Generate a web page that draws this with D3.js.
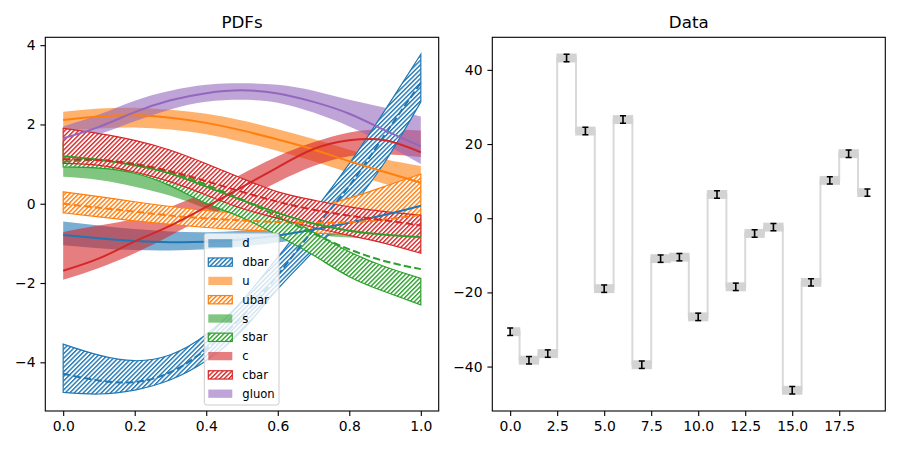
<!DOCTYPE html>
<html><head><meta charset="utf-8">
<script src="https://cdn.jsdelivr.net/npm/d3@7"></script>
<style>body{margin:0;background:#fff} svg{display:block} text{font-family:"DejaVu Sans",sans-serif}</style>
</head><body><svg id="c" width="900" height="450"></svg>
<script>
// ---------- data: left panel (PDFs) ----------
const xGrid = [0, 0.1, 0.2, 0.3, 0.4, 0.5, 0.6, 0.7, 0.8, 0.9, 1.0];

const dLo  = [-1.05, -1.12, -1.17, -1.18, -1.15, -1.08, -0.98, -0.86, -0.75, -0.68, -0.64];
const dHi  = [-0.45, -0.55, -0.64, -0.70, -0.72, -0.68, -0.58, -0.42, -0.20, 0.10, 0.43];
const dMid = [-0.79, -0.87, -0.94, -0.97, -0.96, -0.90, -0.80, -0.65, -0.48, -0.28, -0.05];

const dbarLo  = [-4.76, -4.80, -4.70, -4.44, -3.96, -3.20, -2.15, -1.20, -0.16, 1.06, 2.57];
const dbarHi  = [-3.54, -3.82, -3.96, -3.81, -3.30, -2.45, -1.35, -0.20, 1.01, 2.36, 3.77];
const dbarMid = [-4.29, -4.46, -4.50, -4.25, -3.67, -2.85, -1.80, -0.65, 0.45, 1.75, 3.05];

const uLo  = [1.85, 1.90, 1.92, 1.87, 1.75, 1.56, 1.33, 1.07, 0.78, 0.50, 0.25];
const uHi  = [2.32, 2.40, 2.42, 2.37, 2.27, 2.10, 1.88, 1.63, 1.36, 1.12, 0.95];
const uMid = [2.11, 2.20, 2.23, 2.17, 2.04, 1.85, 1.62, 1.37, 1.07, 0.80, 0.53];

const ubarLo  = [-0.23, -0.33, -0.43, -0.52, -0.60, -0.66, -0.70, -0.74, -0.77, -0.80, -0.82];
const ubarHi  = [0.30, 0.18, 0.05, -0.07, -0.17, -0.24, -0.24, -0.10, 0.14, 0.44, 0.75];
const ubarMid = [0.00, -0.10, -0.20, -0.30, -0.37, -0.42, -0.46, -0.48, -0.47, -0.40, -0.28];

const sLo  = [0.68, 0.60, 0.43, 0.20, -0.12, -0.42, -0.64, -0.78, -0.85, -0.88, -0.90];
const sHi  = [1.06, 1.00, 0.85, 0.62, 0.34, 0.05, -0.22, -0.42, -0.50, -0.52, -0.52];
const sMid = [1.20, 1.11, 0.97, 0.76, 0.43, 0.09, -0.23, -0.50, -0.68, -0.78, -0.84];

const sbarLo  = [0.93, 0.90, 0.77, 0.45, 0.01, -0.35, -0.80, -1.30, -1.84, -2.22, -2.55];
const sbarHi  = [1.55, 1.50, 1.27, 1.00, 0.64, 0.28, -0.20, -0.72, -1.21, -1.59, -1.88];
const sbarMid = [1.06, 1.10, 1.00, 0.80, 0.48, 0.10, -0.32, -0.75, -1.15, -1.45, -1.65];

const cLo  = [-1.92, -1.62, -1.25, -0.80, -0.33, 0.10, 0.55, 0.95, 1.20, 1.25, 1.18];
const cHi  = [-0.71, -0.55, -0.38, -0.08, 0.30, 0.75, 1.20, 1.55, 1.80, 1.88, 1.85];
const cMid = [-1.69, -1.38, -0.95, -0.55, -0.08, 0.42, 0.92, 1.38, 1.60, 1.60, 1.30];

const cbarLo  = [1.02, 0.97, 0.80, 0.55, 0.22, -0.12, -0.37, -0.60, -0.80, -1.00, -1.25];
const cbarHi  = [1.90, 1.77, 1.60, 1.35, 1.01, 0.64, 0.30, 0.09, -0.08, -0.20, -0.29];
const cbarMid = [1.12, 1.10, 1.00, 0.82, 0.57, 0.30, 0.05, -0.15, -0.30, -0.42, -0.55];

const gluonLo  = [1.50, 1.75, 2.08, 2.38, 2.57, 2.62, 2.55, 2.30, 1.95, 1.50, 1.00];
const gluonHi  = [1.95, 2.25, 2.60, 2.85, 3.00, 3.04, 3.00, 2.85, 2.62, 2.42, 2.20];
const gluonMid = [1.65, 1.94, 2.31, 2.61, 2.79, 2.86, 2.78, 2.57, 2.27, 1.85, 1.45];

const pdfNames = ["d", "dbar", "u", "ubar", "s", "sbar", "c", "cbar", "gluon"];
const leftXTicks = [0, 0.2, 0.4, 0.6, 0.8, 1.0];
const leftYTicks = [-4, -2, 0, 2, 4];

// ---------- data: right panel (Data) ----------
const dataX = [0, 1, 2, 3, 4, 5, 6, 7, 8, 9, 10, 11, 12, 13, 14, 15, 16, 17, 18, 19];
const dataY = [-30.6, -38.3, -36.5, 43.2, 23.5, -19.0, 26.6, -39.5, -10.9, -10.5,
               -26.6, 6.4, -18.5, -4.1, -2.4, -46.4, -17.3, 10.2, 17.4, 6.9];
const dataErr = [1, 1, 1, 1, 1, 1, 1, 1, 1, 1, 1, 1, 1, 1, 1, 1, 1, 1, 1, 1];
const rightXTicks = [0, 2.5, 5, 7.5, 10, 12.5, 15, 17.5];
const rightYTicks = [-40, -20, 0, 20, 40];

// ---------- build ----------
const pdfs = [
  {name:"d",    lo:dLo,    hi:dHi,    mid:dMid,    color:"#1f77b4", hatch:false},
  {name:"dbar", lo:dbarLo, hi:dbarHi, mid:dbarMid, color:"#1f77b4", hatch:true},
  {name:"u",    lo:uLo,    hi:uHi,    mid:uMid,    color:"#ff7f0e", hatch:false},
  {name:"ubar", lo:ubarLo, hi:ubarHi, mid:ubarMid, color:"#ff7f0e", hatch:true},
  {name:"s",    lo:sLo,    hi:sHi,    mid:sMid,    color:"#2ca02c", hatch:false},
  {name:"sbar", lo:sbarLo, hi:sbarHi, mid:sbarMid, color:"#2ca02c", hatch:true},
  {name:"c",    lo:cLo,    hi:cHi,    mid:cMid,    color:"#d62728", hatch:false},
  {name:"cbar", lo:cbarLo, hi:cbarHi, mid:cbarMid, color:"#d62728", hatch:true},
  {name:"gluon",lo:gluonLo,hi:gluonHi,mid:gluonMid,color:"#9467bd", hatch:false}
];

const svg = d3.select("#c");
const defs = svg.append("defs");
const FS = 13.9;
const minus = v => (v < 0 ? "\u2212" : "") ;

function hatchPattern(id, color){
  const p = defs.append("pattern").attr("id", id).attr("patternUnits","userSpaceOnUse")
    .attr("width", 3.2).attr("height", 10).attr("patternTransform","rotate(45)");
  p.append("rect").attr("x",0).attr("y",0).attr("width",1.4).attr("height",10).attr("fill",color);
}
pdfs.filter(p=>p.hatch).forEach(p => hatchPattern("h_"+p.name, p.color));

function frameAxes(g, x0, x1, y0, y1, sx, sy, xt, yt, xfmt, yfmt, title){
  const ax = g.append("g").attr("transform", `translate(0,${y1})`)
    .call(d3.axisBottom(sx).tickValues(xt).tickSize(4.9).tickPadding(4.9).tickFormat(xfmt));
  const ay = g.append("g").attr("transform", `translate(${x0},0)`)
    .call(d3.axisLeft(sy).tickValues(yt).tickSize(4.9).tickPadding(4.9).tickFormat(yfmt));
  [ax, ay].forEach(a => {
    a.select(".domain").remove();
    a.selectAll("line").attr("stroke","#000").attr("stroke-width",1.1);
    a.selectAll("text").attr("fill","#000").style("font-size", FS+"px").style("font-family","DejaVu Sans");
  });
  g.append("rect").attr("x",x0).attr("y",y0).attr("width",x1-x0).attr("height",y1-y0)
    .attr("fill","none").attr("stroke","#000").attr("stroke-width",1.1);
  g.append("text").attr("x",(x0+x1)/2).attr("y",y0-9.5).attr("text-anchor","middle")
    .style("font-size","16.7px").attr("fill","#000").text(title);
}

// ---------- left panel ----------
{
  const x0 = 45.3, x1 = 438.7, y0 = 37.3, y1 = 411;
  const sx = d3.scaleLinear().domain([-0.05, 1.05]).range([x0, x1]);
  const all = pdfs.flatMap(p => p.lo.concat(p.hi, p.mid));
  const ymin = d3.min(all), ymax = d3.max(all), pad = (ymax - ymin) * 0.05;
  const sy = d3.scaleLinear().domain([ymin - pad, ymax + pad]).range([y1, y0]);
  const g = svg.append("g");
  defs.append("clipPath").attr("id","clipL").append("rect")
    .attr("x",x0).attr("y",y0).attr("width",x1-x0).attr("height",y1-y0);
  const plot = g.append("g").attr("clip-path","url(#clipL)");
  const area = d3.area().x((d,i)=>sx(xGrid[i])).y0(d=>sy(d[0])).y1(d=>sy(d[1])).curve(d3.curveNatural);
  const line = d3.line().x((d,i)=>sx(xGrid[i])).y(d=>sy(d)).curve(d3.curveNatural);
  const bandData = p => p.lo.map((v,i)=>[v, p.hi[i]]);
  // solid bands
  pdfs.filter(p=>!p.hatch).forEach(p => {
    plot.append("path").attr("d", area(bandData(p))).attr("fill", p.color).attr("fill-opacity", 0.6);
  });
  // hatched bands
  pdfs.filter(p=>p.hatch).forEach(p => {
    const d = area(bandData(p));
    plot.append("path").attr("d", d).attr("fill", "#fff");
    plot.append("path").attr("d", d).attr("fill", `url(#h_${p.name})`)
      .attr("stroke", p.color).attr("stroke-width", 1.2);
  });
  // central lines
  pdfs.forEach(p => {
    plot.append("path").attr("d", line(p.mid)).attr("fill","none").attr("stroke", p.color)
      .attr("stroke-width", 2).attr("stroke-dasharray", p.hatch ? "7.4,3.2" : null);
  });
  frameAxes(g, x0, x1, y0, y1, sx, sy, leftXTicks, leftYTicks,
    d3.format(".1f"), v => minus(v) + Math.abs(v), "PDFs");

  // legend
  const lg = g.append("g");
  const lx = 204.3, ly = 233.3, lw = 74.7, lh = 171.7;
  lg.append("rect").attr("x",lx).attr("y",ly).attr("width",lw).attr("height",lh).attr("rx",2.5)
    .attr("fill","#fff").attr("fill-opacity",0.8).attr("stroke","#cccccc").attr("stroke-width",1);
  pdfNames.forEach((n, i) => {
    const p = pdfs.find(q => q.name === n);
    const cy = 243.3 + i * 18.8;
    if (p.hatch) {
      lg.append("rect").attr("x",208.3).attr("y",cy-4.15).attr("width",24).attr("height",8.3).attr("fill","#fff");
      lg.append("rect").attr("x",208.3).attr("y",cy-4.15).attr("width",24).attr("height",8.3)
        .attr("fill",`url(#h_${p.name})`).attr("stroke",p.color).attr("stroke-width",1.2);
    } else {
      lg.append("rect").attr("x",208.3).attr("y",cy-4.15).attr("width",24).attr("height",8.3)
        .attr("fill",p.color).attr("fill-opacity",0.6);
    }
    lg.append("text").attr("x",242.3).attr("y",cy).attr("dy","0.35em")
      .style("font-size","11.6px").attr("fill","#000").text(n);
  });
}

// ---------- right panel ----------
{
  const x0 = 492.3, x1 = 885.3, y0 = 37.3, y1 = 411;
  const xmin = d3.min(dataX), xmax = d3.max(dataX), xp = (xmax - xmin) * 0.05;
  const sx = d3.scaleLinear().domain([xmin - xp, xmax + xp]).range([x0, x1]);
  const lo = dataY.map((v,i)=>v - dataErr[i]), hi = dataY.map((v,i)=>v + dataErr[i]);
  const ymin = d3.min(lo), ymax = d3.max(hi), yp = (ymax - ymin) * 0.05;
  const sy = d3.scaleLinear().domain([ymin - yp, ymax + yp]).range([y1, y0]);
  const g = svg.append("g");
  defs.append("clipPath").attr("id","clipR").append("rect")
    .attr("x",x0).attr("y",y0).attr("width",x1-x0).attr("height",y1-y0);
  const plot = g.append("g").attr("clip-path","url(#clipR)");
  const pts = dataX.map((x,i)=>[x, dataY[i]]);
  plot.append("path").attr("d", d3.line().x(d=>sx(d[0])).y(d=>sy(d[1])).curve(d3.curveStep)(pts))
    .attr("fill","none").attr("stroke","#d9d9d9").attr("stroke-width",2);
  pts.forEach((d,i) => {
    const a = Math.max(d[0]-0.5, xmin), b = Math.min(d[0]+0.5, xmax);
    plot.append("rect").attr("x", sx(a)).attr("width", sx(b)-sx(a))
      .attr("y", sy(hi[i])).attr("height", sy(lo[i]) - sy(hi[i]))
      .attr("fill","#d3d3d3").attr("stroke","#d3d3d3").attr("stroke-width",1.5);
  });
  pts.forEach((d,i) => {
    const cx = sx(d[0]);
    plot.append("line").attr("x1",cx).attr("x2",cx).attr("y1",sy(hi[i])).attr("y2",sy(lo[i]))
      .attr("stroke","#000").attr("stroke-width",1.6);
    [hi[i], lo[i]].forEach(v => plot.append("line").attr("x1",cx-3).attr("x2",cx+3)
      .attr("y1",sy(v)).attr("y2",sy(v)).attr("stroke","#000").attr("stroke-width",1.5));
  });
  frameAxes(g, x0, x1, y0, y1, sx, sy, rightXTicks, rightYTicks,
    d3.format(".1f"), v => minus(v) + Math.abs(v), "Data");
}
</script></body></html>
